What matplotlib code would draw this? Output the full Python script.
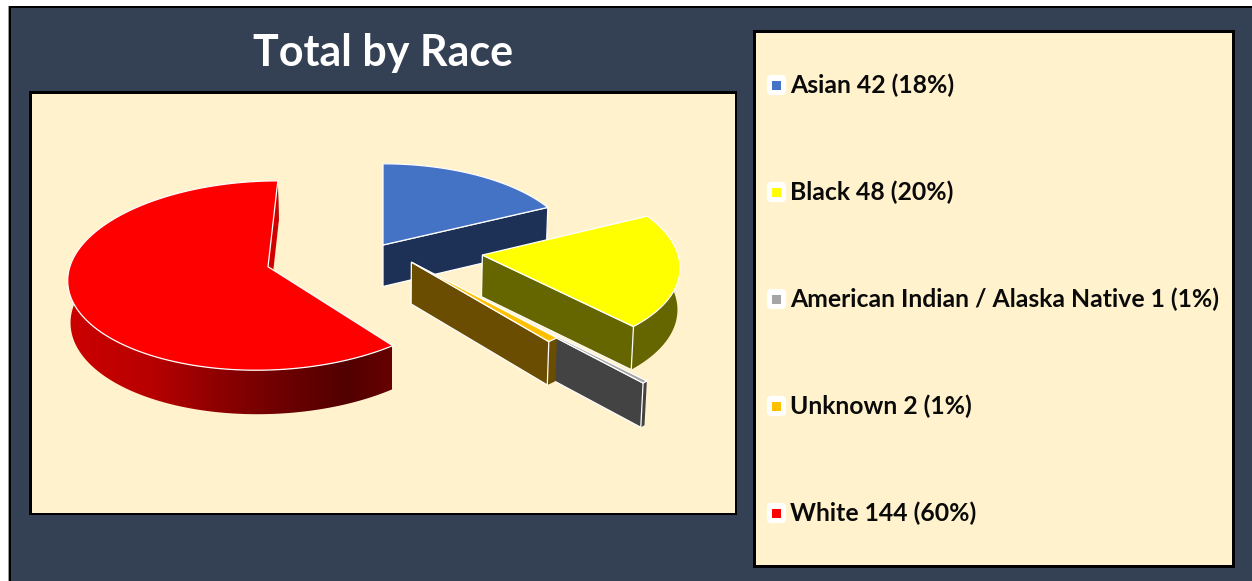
import numpy as np
import matplotlib
matplotlib.use("Agg")
import matplotlib.pyplot as plt
from matplotlib.patches import Rectangle, FancyBboxPatch, Polygon
from matplotlib.colors import LinearSegmentedColormap

categories = ["Asian", "Black", "American Indian / Alaska Native", "Unknown", "White"]
values = [42, 48, 1, 2, 144]
percent_labels = ["18%", "20%", "1%", "1%", "60%"]
colors = ["#4472C4", "#FFFF00", "#A5A5A5", "#FFC000", "#FF0000"]
wall_colors = ["#1D3157", "#666600", "#434343", "#6A4D00", "#D00000"]
explode_x = [0.0, 0.515, 0.528, 0.146, -0.589]
explode_y = [0.0, -0.112, -0.622, -0.19, -0.24]
slice_radius = [1.0, 1.015, 1.0, 1.03, 1.015]
draw_order = [0, 4, 2, 1, 3]

plt.rcParams["font.family"] = ["Lato", "DejaVu Sans"]
fig = plt.figure(figsize=(12.52, 5.81), dpi=100, facecolor="white")
ax = fig.add_axes([0, 0, 1, 1])
ax.set_xlim(0, 1252)
ax.set_ylim(581, 0)
ax.axis("off")

DARK, CREAM = "#344054", "#FFF2CC"
ax.add_patch(Rectangle((8, 6), 1244, 580, fc="#000000", ec="none", zorder=0))
ax.add_patch(Rectangle((8, 6), 1, 580, fc="#999999", ec="none", zorder=0.1))
ax.add_patch(Rectangle((11, 8), 1241, 580, fc=DARK, ec="none", zorder=0.2))
ax.add_patch(Rectangle((29, 91), 708, 424, fc="#000000", ec="none", zorder=1))
ax.add_patch(Rectangle((31.5, 94), 703.5, 419, fc=CREAM, ec="none", zorder=1.1))
ax.add_patch(Rectangle((753, 30), 482, 538, fc="#000000", ec="none", zorder=1))
ax.add_patch(Rectangle((756, 33), 476, 532, fc=CREAM, ec="none", zorder=1.1))
ax.text(383, 53, "Total by Race", color="white", fontsize=31, fontweight="bold",
        ha="center", va="center", zorder=5)

# Perspective of the pie plane (unit-radius slices)
XC, Y0, A, B, K = 383.0, 245.0, 191.0, 88.5, 0.09
def project(X, Y, z=0.0):
    X, Y = np.asarray(X, float), np.asarray(Y, float)
    w = 1 + K * Y
    x = XC + A * X / w
    y = Y0 - B * Y / w
    if z:
        x = x + (XC - x) * 0.009 * z
        y = y + z * (41.5 + 0.02 * (y - 245))
    return x, y

total = sum(values)
edges = np.cumsum([0] + values) / total * 2 * np.pi
z = 10
grad = LinearSegmentedColormap.from_list("redwall", [
    (0.0, "#CC0000"), (0.25, "#B80000"), (0.47, "#8C0000"),
    (0.70, "#680000"), (0.86, "#520000"), (1.0, "#660000")])
EDGE = dict(ec="white", lw=0.9)

for i in draw_order:
    t0, t1 = edges[i], edges[i + 1]
    th = np.linspace(t0, t1, 160)
    cx, cy = explode_x[i], explode_y[i]
    r = slice_radius[i]
    X, Y = cx + r * np.sin(th), cy + r * np.cos(th)
    tx, ty = project(X, Y)
    bx, by = project(X, Y, 1.0)
    ax0, ay0 = project(cx, cy)
    ax1, ay1 = project(cx, cy, 1.0)

    arc = np.c_[np.r_[tx, bx[::-1]], np.r_[ty, by[::-1]]]
    if categories[i] == "White":
        # shaded outer wall, then the radial wall at the back
        poly = Polygon(arc, closed=True, fc="none", ec="none", zorder=z)
        ax.add_patch(poly)
        im = ax.imshow(np.linspace(0, 1, 256)[None, :], cmap=grad, aspect="auto",
                       extent=(69, 392, 420, 170), zorder=z)
        im.set_clip_path(poly)
        ax.set_xlim(0, 1252)
        ax.set_ylim(581, 0)
        z += 1
        back = [(tx[-1], ty[-1]), (bx[-1], by[-1]), (ax1, ay1), (ax0, ay0)]
        ax.add_patch(Polygon(back, closed=True, fc=wall_colors[i], ec="none", zorder=z))
        z += 1
    else:
        # radial wall on the viewer side of the slice
        rad = [(ax0, ay0), (tx[-1], ty[-1]), (bx[-1], by[-1]), (ax1, ay1)]
        ax.add_patch(Polygon(arc, closed=True, fc=wall_colors[i], zorder=z, ec="none"))
        z += 1
        ax.add_patch(Polygon(rad, closed=True, fc=wall_colors[i], zorder=z, **EDGE))
        z += 1
    top = np.c_[np.r_[ax0, tx], np.r_[ay0, ty]]
    ax.add_patch(Polygon(top, closed=True, fc=colors[i], zorder=z, **EDGE))
    z += 1

# Legend
legend_y = [85, 192, 299, 406, 513]
for name, val, pct, col, y in zip(categories, values, percent_labels, colors, legend_y):
    ax.add_patch(FancyBboxPatch((769, y - 8), 15, 16, boxstyle="round,pad=0,rounding_size=2",
                                fc="white", ec="white", lw=3, zorder=6))
    ax.add_patch(Rectangle((772, y - 4.5), 9, 9, fc=col, ec="none", zorder=7))
    ax.text(790, y + 0.7, f"{name} {val} ({pct})", color="#0A0A0A", fontsize=17.8,
            fontweight="bold", ha="left", va="center", zorder=7)

fig.savefig("out.png", dpi=100, facecolor="white")
